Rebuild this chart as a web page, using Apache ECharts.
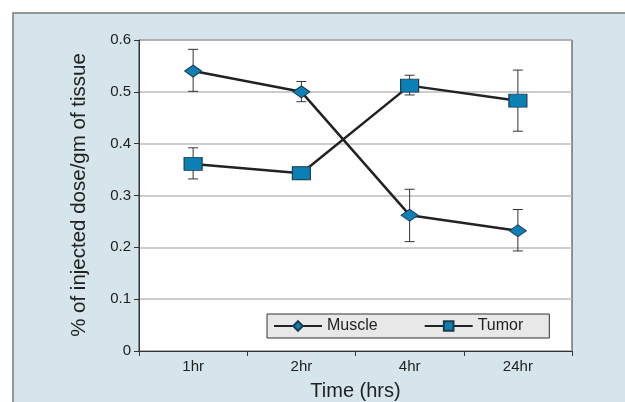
<!DOCTYPE html>
<html>
<head>
<meta charset="utf-8">
<script src="https://cdn.jsdelivr.net/npm/echarts@6/dist/echarts.min.js"></script>
<style>
html,body{margin:0;padding:0;background:#fff;}
#c{width:625px;height:402px;}
</style>
</head>
<body>
<div id="c"></div>
<script>
var categories = ['1hr', '2hr', '4hr', '24hr'];
var muscle = [0.54, 0.50, 0.262, 0.232];
var muscleLow = [0.501, 0.481, 0.211, 0.193];
var muscleHigh = [0.582, 0.52, 0.312, 0.273];
var tumor = [0.361, 0.343, 0.512, 0.483];
var tumorLow = [0.332, 0.331, 0.494, 0.424];
var tumorHigh = [0.392, 0.352, 0.532, 0.542];
var yTicks = [0, 0.1, 0.2, 0.3, 0.4, 0.5, 0.6];

var FONT = '"Liberation Sans", Arial, sans-serif';

function errData(low, high) {
  return categories.map(function (c, i) { return [i, low[i], high[i]]; });
}
function errRender(params, api) {
  var x = api.value(0);
  var lo = api.coord([x, api.value(1)]);
  var hi = api.coord([x, api.value(2)]);
  var w = 5;
  var st = { stroke: '#333', lineWidth: 1 };
  return {
    type: 'group',
    children: [
      { type: 'line', shape: { x1: lo[0], y1: lo[1], x2: hi[0], y2: hi[1] }, style: st },
      { type: 'line', shape: { x1: lo[0] - w, y1: lo[1], x2: lo[0] + w, y2: lo[1] }, style: st },
      { type: 'line', shape: { x1: hi[0] - w, y1: hi[1], x2: hi[0] + w, y2: hi[1] }, style: st }
    ]
  };
}

var chart = echarts.init(document.getElementById('c'), null, { renderer: 'canvas' });
chart.setOption({
  animation: false,
  backgroundColor: '#fff',
  textStyle: { fontFamily: FONT },
  graphic: [{
    type: 'rect', z: -10,
    shape: { x: 13, y: 13, width: 630, height: 400 },
    style: { fill: '#d6e4eb', stroke: '#7a7a7a', lineWidth: 1.5 }
  }, {
    type: 'text', z: 10,
    x: 79, y: 195,
    rotation: Math.PI / 2,
    style: {
      text: '% of injected dose/gm of tissue',
      x: 0, y: 0, align: 'center', verticalAlign: 'middle',
      font: '20.5px ' + FONT, fill: '#222'
    }
  }],
  grid: {
    left: 139, top: 40, right: 53, bottom: 51,
    outerBoundsMode: 'none', containLabel: false,
    show: true, backgroundColor: '#fff', borderColor: '#333', borderWidth: 1
  },
  legend: {
    left: 267, top: 314,
    padding: [4, 26, 4, 6],
    backgroundColor: '#e8e8e8', borderColor: '#333', borderWidth: 1,
    itemWidth: 48, itemHeight: 12, itemGap: 46,
    textStyle: { fontFamily: FONT, fontSize: 16, color: '#222' },
    data: ['Muscle', 'Tumor']
  },
  xAxis: {
    type: 'category', data: categories, boundaryGap: true,
    name: 'Time (hrs)', nameLocation: 'middle', nameGap: 30,
    nameTextStyle: { fontFamily: FONT, fontSize: 20, color: '#222' },
    axisLine: { lineStyle: { color: '#333', width: 1 } },
    axisTick: { show: true, alignWithLabel: false, length: 5, lineStyle: { color: '#333' } },
    axisLabel: { margin: 8, fontSize: 15, color: '#222', fontFamily: FONT },
    splitLine: { show: false }
  },
  yAxis: {
    type: 'value', min: 0, max: 0.6, interval: 0.1,
    axisLine: { show: true, lineStyle: { color: '#333', width: 1 } },
    axisTick: { show: true, length: 5, lineStyle: { color: '#333' } },
    axisLabel: {
      margin: 8, fontSize: 15, color: '#222', fontFamily: FONT,
      formatter: function (v) { return String(Math.round(v * 10) / 10); }
    },
    splitLine: { show: true, lineStyle: { color: '#bdbdbd', width: 1.5 } }
  },
  series: [{
    name: 'MuscleErr', type: 'custom', renderItem: errRender,
    data: errData(muscleLow, muscleHigh), z: 1, silent: true
  }, {
    name: 'TumorErr', type: 'custom', renderItem: errRender,
    data: errData(tumorLow, tumorHigh), z: 1, silent: true
  }, {
    name: 'Muscle', type: 'line', data: muscle, z: 3,
    symbol: 'diamond', symbolSize: [17, 12],
    lineStyle: { color: '#222', width: 2.5 },
    itemStyle: { color: '#0a80b5', borderColor: '#1f3a4a', borderWidth: 1 }
  }, {
    name: 'Tumor', type: 'line', data: tumor, z: 3,
    symbol: 'rect', symbolSize: [18, 13],
    lineStyle: { color: '#222', width: 2.5 },
    itemStyle: { color: '#0a80b5', borderColor: '#1f3a4a', borderWidth: 1 }
  }]
});
</script>
</body>
</html>
